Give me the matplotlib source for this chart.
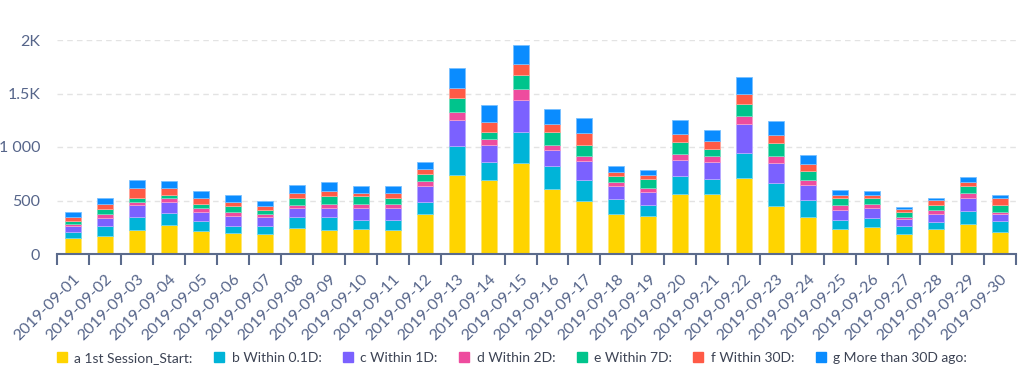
import matplotlib
matplotlib.use("Agg")
import matplotlib.pyplot as plt
from matplotlib.lines import Line2D
from matplotlib.ticker import FixedLocator
import matplotlib.colors as mcolors
import numpy as np

plt.rcParams['font.family'] = ['Lato', 'DejaVu Sans']

dates = [f"2019-09-{d:02d}" for d in range(1, 31)]

series_names = ["a 1st Session_Start:", "b Within 0.1D:", "c Within 1D:", "d Within 2D:",
                "e Within 7D:", "f Within 30D:", "g More than 30D ago:"]
colors = ["#FFD400", "#00B4D8", "#7B61FF", "#EE4C9E", "#00C48C", "#FF5A46", "#0A8CFF"]

a_first = [147, 165, 224, 268, 215, 199, 184, 243, 224, 231, 224, 370, 740, 694, 852,
           610, 498, 376, 351, 560, 561, 707, 449, 343, 231, 249, 190, 231, 283, 209]
b_01d = [59, 94, 119, 118, 93, 66, 75, 100, 119, 87, 93, 118, 268, 164, 292,
         208, 196, 140, 106, 171, 137, 240, 214, 165, 87, 84, 69, 71, 122, 103]
c_1d = [53, 77, 112, 97, 81, 90, 84, 84, 90, 115, 115, 150, 248, 165, 296,
        155, 177, 115, 125, 149, 165, 265, 191, 140, 96, 94, 71, 72, 121, 62]
d_2d = [21, 38, 28, 37, 41, 34, 28, 28, 34, 34, 35, 43, 69, 56, 106,
        50, 43, 38, 37, 50, 50, 78, 65, 44, 41, 40, 19, 34, 44, 15]
e_7d = [32, 50, 43, 34, 37, 60, 43, 65, 72, 72, 55, 65, 130, 65, 127,
        115, 103, 56, 78, 118, 71, 112, 115, 87, 65, 56, 40, 50, 62, 69]
f_30d = [34, 43, 94, 60, 59, 40, 35, 47, 47, 31, 44, 44, 94, 88, 100,
         75, 112, 40, 43, 72, 75, 96, 81, 65, 34, 28, 28, 44, 41, 68]
g_more = [50, 59, 72, 68, 60, 62, 49, 78, 87, 65, 68, 68, 193, 164, 183,
          140, 146, 62, 44, 130, 97, 153, 128, 78, 41, 38, 25, 24, 50, 25]

series = [a_first, b_01d, c_1d, d_2d, e_7d, f_30d, g_more]

fig = plt.figure(figsize=(10.25, 3.85), dpi=100)
ax = fig.add_axes([57/1025, (385-254)/385, 959/1025, 214/385])

x = np.arange(len(dates))
bottom = np.zeros(len(dates))
for vals, col in zip(series, colors):
    v = np.array(vals, dtype=float)
    edge = mcolors.to_rgb(col)
    edge = tuple(0.55*c + 0.45 for c in edge)
    ax.bar(x, v, width=0.5, bottom=bottom, color=col, edgecolor=edge, linewidth=0.6, zorder=3)
    bottom += v

ax.set_xlim(-0.5, len(dates) - 0.5)
ax.set_ylim(0, 2000)

label_color = "#56658A"
ax.set_yticks([0, 500, 1000, 1500, 2000])
ax.set_yticklabels(["0", "500", "1 000", "1.5K", "2K"], fontsize=11.5, color=label_color)
ax.tick_params(axis='y', length=0, pad=12)
for yv in [500, 1000, 1500, 2000]:
    ax.axhline(yv, color="#E3E3E3", lw=1, ls=(0, (4, 3)), zorder=1)

ax.set_xticks(x)
ax.set_xticklabels(dates, rotation=45, ha='right', rotation_mode='anchor',
                   fontsize=11.5, color=label_color)
ax.tick_params(axis='x', which='major', length=0, pad=13)
ax.xaxis.set_minor_locator(FixedLocator(np.arange(-0.5, len(dates), 1.0)))
ax.tick_params(axis='x', which='minor', length=8, width=1.5, color="#5B6B8C")

for s in ["top", "right", "left"]:
    ax.spines[s].set_visible(False)
ax.spines["bottom"].set_color("#5B6B8C")
ax.spines["bottom"].set_linewidth(1.5)
ax.spines["bottom"].set_zorder(4)

handles = [Line2D([], [], marker='s', ls='none', markersize=7.5, markerfacecolor=c,
                  markeredgecolor=c) for c in colors]
fig.legend(handles, series_names, loc='center', bbox_to_anchor=(511/1025, (385-358)/385),
           ncol=7, frameon=False, fontsize=10, handletextpad=0.4, columnspacing=1.4,
           handlelength=1.0, labelcolor="#3C4354")

fig.savefig("out.png", dpi=100)
